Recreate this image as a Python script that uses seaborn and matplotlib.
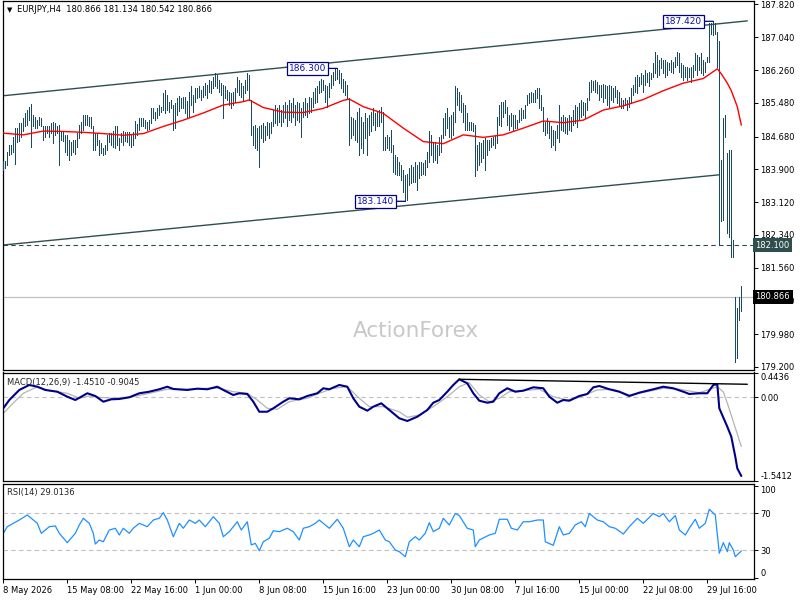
import numpy as np
import pandas as pd
import seaborn as sns
import matplotlib.pyplot as plt
from matplotlib.transforms import blended_transform_factory

sns.set_style("white")
plt.rcParams['font.family'] = ['DejaVu Sans']

# EURJPY H4 bars, one value per bar (high / low)
bar_high = [
    184.10, 184.10, 184.32, 184.48, 184.48, 184.68, 184.88, 184.88, 184.99, 184.99,
    185.11, 185.23, 185.31, 185.39, 185.45, 185.19, 185.15, 185.07, 185.15, 185.13,
    184.92, 184.92, 184.92, 184.92, 184.99, 185.03, 184.99, 184.92, 184.95, 184.80,
    184.80, 184.72, 184.72, 184.60, 184.56, 184.60, 184.60, 184.76, 184.95, 185.03,
    185.19, 185.19, 185.19, 185.15, 185.15, 184.92, 184.76, 184.76, 184.60, 184.52,
    184.40, 184.49, 184.72, 184.76, 184.76, 184.80, 184.94, 184.92, 184.64, 184.76,
    184.80, 184.78, 184.78, 184.78, 184.73, 184.78, 185.05, 184.97, 185.11, 185.11,
    185.13, 185.07, 185.03, 185.07, 185.35, 185.35, 185.27, 185.35, 185.43, 185.39,
    185.71, 185.79, 185.67, 185.51, 185.55, 185.43, 185.47, 185.59, 185.65, 185.59,
    185.63, 185.63, 185.53, 185.75, 185.87, 185.67, 185.83, 185.83, 185.87, 185.79,
    185.87, 185.95, 185.91, 186.03, 185.99, 186.10, 186.18, 186.14, 186.03, 185.95,
    185.91, 185.87, 185.79, 185.75, 185.71, 185.75, 185.83, 186.10, 186.03, 185.95,
    185.87, 186.03, 186.18, 186.14, 185.55, 184.92, 184.95, 184.88, 184.92, 184.95,
    184.99, 184.92, 185.03, 184.99, 185.03, 185.31, 185.43, 185.35, 185.43, 185.31,
    185.43, 185.51, 185.43, 185.55, 185.47, 185.59, 185.43, 185.51, 185.47, 185.35,
    185.51, 185.59, 185.47, 185.63, 185.59, 185.75, 185.83, 185.87, 185.99, 186.06,
    186.03, 185.91, 185.87, 185.95, 186.14, 186.22, 186.29, 186.30, 186.26, 186.18,
    186.06, 185.99, 185.91, 185.59, 185.15, 185.11, 185.07, 185.27, 185.35, 185.15,
    185.03, 185.23, 185.11, 185.19, 185.27, 185.35, 185.23, 185.27, 185.31, 185.39,
    185.27, 184.68, 184.72, 184.68, 184.84, 184.48, 184.24, 184.20, 184.08, 184.00,
    183.88, 183.77, 183.80, 183.92, 184.00, 183.96, 184.08, 184.00, 184.08, 184.08,
    184.04, 184.12, 184.32, 184.80, 184.72, 184.52, 184.56, 184.48, 184.68, 184.72,
    185.11, 185.23, 185.35, 185.15, 185.19, 185.27, 185.87, 185.83, 185.75, 185.67,
    185.47, 185.43, 185.23, 185.03, 185.03, 184.99, 184.95, 184.48, 184.56, 184.52,
    184.60, 184.64, 184.60, 184.60, 184.64, 184.68, 184.72, 185.15, 185.43, 185.51,
    185.51, 185.55, 185.39, 185.19, 185.23, 185.19, 185.19, 185.07, 185.31, 185.35,
    185.31, 185.43, 185.67, 185.71, 185.75, 185.71, 185.79, 185.83, 185.83, 185.67,
    185.39, 185.03, 185.11, 185.03, 184.92, 184.84, 184.80, 184.95, 185.43, 185.15,
    185.19, 185.15, 185.11, 185.19, 185.15, 185.31, 185.43, 185.39, 185.47, 185.55,
    185.51, 185.47, 185.59, 185.98, 186.02, 186.01, 186.02, 185.98, 185.91, 185.91,
    185.94, 185.91, 185.87, 185.91, 185.87, 185.83, 185.87, 185.79, 185.75, 185.59,
    185.55, 185.59, 185.55, 185.63, 185.83, 185.91, 186.10, 186.14, 186.10, 186.18,
    186.14, 186.26, 186.18, 186.22, 186.18, 186.42, 186.70, 186.62, 186.50, 186.54,
    186.50, 186.50, 186.46, 186.42, 186.50, 186.46, 186.58, 186.70, 186.66, 186.42,
    186.38, 186.34, 186.34, 186.30, 186.34, 186.38, 186.66, 186.62, 186.58, 186.66,
    186.50, 186.46, 186.58, 187.37, 187.37, 187.42, 187.39, 187.17, 186.94, 184.12,
    185.11, 185.19, 184.28, 184.36, 184.36, 182.22, 180.87, 180.60, 180.87, 181.134,
]
bar_low = [
    183.88, 183.92, 184.00, 184.24, 184.26, 184.32, 184.02, 184.56, 184.57, 184.68,
    184.80, 184.92, 184.95, 185.07, 184.42, 184.92, 184.88, 184.89, 184.95, 184.92,
    184.60, 184.68, 184.76, 184.68, 184.76, 184.52, 184.72, 184.76, 184.00, 184.60,
    184.57, 184.32, 184.24, 184.12, 184.24, 184.32, 184.26, 184.44, 184.64, 184.76,
    184.84, 184.95, 184.95, 184.92, 184.89, 184.36, 184.36, 184.48, 184.24, 184.28,
    184.24, 184.26, 184.36, 184.56, 184.48, 184.44, 184.40, 184.48, 184.36, 184.56,
    184.48, 184.57, 184.54, 184.48, 184.42, 184.48, 184.64, 184.72, 184.84, 184.92,
    184.92, 184.88, 184.84, 184.86, 184.99, 185.11, 185.07, 185.11, 185.19, 185.26,
    185.31, 185.23, 185.31, 185.27, 185.35, 184.84, 184.88, 185.19, 185.29, 185.35,
    185.37, 185.23, 185.15, 185.15, 185.43, 185.27, 185.51, 185.59, 185.63, 185.55,
    185.63, 185.67, 185.59, 185.75, 185.71, 185.83, 185.87, 185.83, 185.75, 185.67,
    185.11, 185.59, 185.55, 185.43, 185.35, 185.43, 185.51, 185.75, 185.67, 185.63,
    185.55, 185.71, 185.79, 185.55, 184.72, 184.48, 184.40, 184.36, 183.96, 184.64,
    184.56, 184.60, 184.72, 184.64, 184.76, 184.92, 184.99, 184.95, 185.03, 184.92,
    185.03, 185.11, 184.92, 185.07, 185.03, 185.15, 184.95, 185.07, 185.03, 184.68,
    185.15, 185.19, 185.15, 185.23, 185.27, 185.39, 185.47, 185.51, 185.71, 185.75,
    185.79, 185.51, 185.39, 185.63, 185.83, 185.91, 186.03, 186.06, 185.95, 185.83,
    185.75, 185.67, 185.59, 184.48, 184.64, 184.72, 184.60, 184.56, 184.24, 184.40,
    184.28, 184.64, 184.24, 184.72, 184.80, 184.95, 184.84, 184.92, 184.92, 185.03,
    184.36, 184.36, 184.40, 184.36, 184.32, 183.84, 183.80, 183.77, 183.77, 183.65,
    183.37, 183.14, 183.17, 183.53, 183.57, 183.61, 183.61, 183.41, 183.69, 183.77,
    183.80, 183.77, 183.96, 184.08, 184.24, 184.08, 184.12, 184.04, 184.24, 184.32,
    184.64, 184.72, 184.88, 184.68, 184.64, 184.72, 185.03, 185.43, 185.31, 185.27,
    185.03, 184.84, 184.84, 184.84, 184.84, 184.80, 183.73, 183.88, 184.00, 184.08,
    184.16, 183.88, 184.24, 184.36, 184.44, 184.48, 184.40, 184.52, 184.95, 184.92,
    185.15, 185.23, 184.95, 184.84, 184.92, 184.84, 184.88, 184.88, 185.03, 185.07,
    185.11, 185.11, 185.43, 185.47, 185.51, 185.51, 185.51, 185.59, 185.35, 185.31,
    184.80, 184.72, 184.76, 184.64, 184.44, 184.48, 184.36, 184.64, 184.56, 184.84,
    184.80, 184.76, 184.74, 184.84, 184.80, 184.95, 184.99, 184.91, 185.07, 185.15,
    185.19, 185.11, 185.31, 185.55, 185.75, 185.79, 185.75, 185.71, 185.55, 185.63,
    185.51, 185.59, 185.43, 185.39, 185.55, 185.51, 185.63, 185.47, 185.43, 185.35,
    185.35, 185.43, 185.31, 185.39, 185.47, 185.67, 185.75, 185.71, 185.87, 185.94,
    185.75, 185.91, 185.98, 185.87, 186.06, 186.10, 186.18, 186.10, 186.14, 186.30,
    186.18, 186.10, 186.14, 186.26, 186.22, 186.18, 186.34, 186.38, 186.22, 186.10,
    186.02, 186.10, 186.02, 186.10, 185.98, 186.10, 186.26, 186.14, 186.26, 186.18,
    186.14, 186.22, 186.46, 186.46, 187.13, 187.09, 187.13, 186.34, 182.10, 182.66,
    182.69, 184.68, 182.38, 182.30, 181.82, 181.82, 179.33, 179.41, 180.32, 180.542,
]

# moving average (red), sampled (bar index, price)
ma_pts = [(0, 184.76), (10, 184.72), (20, 184.81), (30, 184.80), (40, 184.78), (50, 184.75),
          (60, 184.71), (70, 184.75), (80, 184.92), (90, 185.07), (100, 185.24), (110, 185.43),
          (120, 185.51), (123, 185.55), (130, 185.37), (140, 185.26), (150, 185.25), (160, 185.35),
          (170, 185.54), (173, 185.57), (180, 185.39), (190, 185.23), (200, 184.88), (210, 184.56),
          (220, 184.51), (230, 184.72), (240, 184.66), (250, 184.72), (260, 184.88), (270, 185.05),
          (280, 185.01), (290, 185.07), (300, 185.31), (310, 185.41), (320, 185.56), (330, 185.77),
          (340, 185.95), (350, 186.06), (357, 186.29), (359, 186.17), (362, 185.95), (364, 185.77),
          (367, 185.39), (369, 184.95)]

# channel and marked levels
channel_x = [0, 372]
channel_upper = [185.65, 187.43]
channel_lower_x = [0, 358]
channel_lower = [182.10, 183.77]
level_dash = 182.100
level_last = 180.866
swing_labels = [(167, 186.30, '186.300'), (201, 183.14, '183.140'), (355, 187.42, '187.420')]

macd_pts = [(0, -0.203), (3, -0.050), (8, 0.135), (13, 0.227), (17, 0.195), (21, 0.135), (27, 0.103),
            (32, 0.011), (36, -0.050), (39, 0.011), (42, 0.074), (46, 0.024), (50, -0.081), (54, -0.037),
            (58, -0.031), (63, 0.0), (68, 0.074), (73, 0.103), (78, 0.148), (82, 0.195), (85, 0.153),
            (92, 0.135), (97, 0.159), (102, 0.148), (107, 0.195), (110, 0.135), (115, 0.042), (118, 0.074),
            (122, 0.061), (125, -0.081), (128, -0.266), (132, -0.266), (135, -0.203), (140, -0.081),
            (143, -0.018), (148, -0.037), (152, 0.024), (157, 0.074), (160, 0.166), (163, 0.148),
            (168, 0.227), (172, 0.195), (175, -0.018), (178, -0.173), (182, -0.247), (185, -0.173),
            (189, -0.111), (192, -0.203), (198, -0.387), (202, -0.437), (207, -0.358), (212, -0.234),
            (215, -0.100), (218, -0.050), (222, 0.103), (225, 0.227), (228, 0.332), (232, 0.258),
            (235, 0.074), (238, -0.063), (242, -0.100), (245, -0.081), (248, 0.074), (252, 0.166),
            (256, 0.103), (260, 0.122), (265, 0.184), (270, 0.166), (273, 0.011), (277, -0.100),
            (280, -0.050), (283, -0.063), (288, 0.024), (292, 0.061), (295, 0.184), (298, 0.208),
            (303, 0.148), (308, 0.103), (313, 0.024), (318, 0.085), (325, 0.148), (330, 0.195),
            (335, 0.166), (340, 0.103), (343, 0.061), (348, 0.074), (352, 0.074), (355, 0.227),
            (357, 0.240), (358, -0.203), (362, -0.542), (364, -0.727), (366, -1.096), (367, -1.310),
            (369, -1.451)]
signal_pts = [(0, -0.295), (5, -0.105), (10, 0.074), (17, 0.195), (23, 0.122), (32, 0.074), (38, -0.018),
              (43, 0.024), (48, 0.0), (55, -0.018), (65, 0.011), (73, 0.074), (82, 0.148), (92, 0.148),
              (102, 0.166), (108, 0.166), (115, 0.103), (122, 0.074), (127, -0.050), (132, -0.203),
              (137, -0.221), (143, -0.081), (152, -0.018), (158, 0.074), (165, 0.166), (172, 0.195),
              (178, -0.018), (183, -0.173), (190, -0.173), (198, -0.266), (202, -0.369), (208, -0.326),
              (215, -0.173), (222, 0.011), (228, 0.195), (233, 0.269), (238, 0.042), (243, -0.081),
              (248, -0.018), (253, 0.103), (260, 0.122), (268, 0.148), (275, 0.011), (282, -0.050),
              (288, 0.0), (297, 0.135), (305, 0.148), (313, 0.042), (322, 0.103), (330, 0.166),
              (338, 0.148), (348, 0.085), (357, 0.195), (360, 0.10), (362, -0.105), (365, -0.45),
              (369, -0.9045)]
macd_trend_x = [228, 372]
macd_trend_y = [0.332, 0.240]

rsi_pts = [(0, 48.2), (2, 55.4), (5, 59.1), (8, 62.7), (12, 68.2), (15, 62.7), (17, 59.1), (19, 48.2),
           (23, 55.4), (26, 56.2), (28, 48.2), (32, 38.0), (36, 48.2), (38, 57.3), (40, 64.6), (43, 59.1),
           (45, 48.2), (46, 36.5), (48, 40.9), (50, 39.0), (53, 51.8), (56, 53.7), (58, 46.4), (60, 53.7),
           (63, 48.2), (65, 53.7), (68, 59.1), (72, 55.4), (75, 62.7), (78, 64.6), (80, 70.7), (82, 62.7),
           (85, 44.5), (88, 59.1), (90, 53.7), (93, 62.7), (96, 59.1), (98, 62.7), (101, 55.4), (105, 66.3),
           (108, 59.1), (110, 44.5), (113, 50.0), (117, 60.8), (119, 51.8), (122, 60.8), (124, 35.5),
           (126, 37.3), (128, 29.2), (130, 39.0), (133, 42.8), (135, 51.0), (138, 50.0), (142, 53.7),
           (145, 50.0), (148, 40.9), (150, 53.7), (153, 55.4), (156, 59.1), (158, 62.7), (161, 57.3),
           (163, 53.7), (167, 63.5), (170, 53.7), (173, 33.6), (175, 40.9), (178, 33.6), (180, 44.5),
           (183, 46.4), (185, 48.2), (188, 51.8), (191, 40.9), (193, 39.0), (196, 30.0), (198, 28.2),
           (201, 22.7), (203, 39.0), (206, 44.5), (208, 40.9), (211, 48.2), (213, 59.8), (215, 50.0),
           (218, 53.7), (220, 64.6), (223, 57.3), (226, 69.8), (228, 67.6), (232, 53.7), (235, 51.8),
           (236, 33.6), (238, 40.9), (243, 46.4), (246, 48.2), (248, 63.5), (252, 63.5), (254, 53.7),
           (257, 51.8), (260, 60.8), (263, 60.8), (267, 62.7), (270, 62.7), (271, 39.0), (275, 35.1),
           (278, 55.4), (280, 46.4), (283, 48.2), (286, 57.3), (289, 60.8), (291, 55.4), (293, 69.8),
           (297, 62.7), (300, 60.8), (303, 55.4), (306, 53.7), (310, 47.4), (313, 55.4), (317, 64.6),
           (320, 59.1), (325, 69.8), (328, 66.3), (330, 69.8), (333, 60.8), (336, 67.6), (338, 51.8),
           (341, 46.4), (343, 53.7), (346, 63.5), (348, 53.7), (351, 59.1), (353, 74.4), (356, 68.2),
           (358, 26.4), (360, 38.0), (362, 28.2), (363, 38.0), (365, 30.0), (366, 22.7), (369, 29.0)]

price_ticks = [187.82, 187.04, 186.26, 185.48, 184.68, 183.90, 183.12, 182.34, 181.56, 180.78, 179.98, 179.20]
macd_ticks = [0.4436, 0.0, -1.5412]
macd_tick_labels = ['0.4436', '0.00', '-1.5412']
rsi_ticks = [100, 70, 30, 0]
time_labels = ['8 May 2026', '15 May 08:00', '22 May 16:00', '1 Jun 00:00', '8 Jun 08:00',
               '15 Jun 16:00', '23 Jun 00:00', '30 Jun 08:00', '7 Jul 16:00', '15 Jul 00:00',
               '22 Jul 08:00', '29 Jul 16:00']
time_step = 32

BAR = '#1a4a5f'
SLATE = '#2f4f4f'
FS = 6

fig = plt.figure(figsize=(8, 6), dpi=100)
W, H = 800.0, 600.0
ax = fig.add_axes([2.5 / W, 1 - 370 / H, 751 / W, 369 / H])
ax2 = fig.add_axes([2.5 / W, 1 - 481 / H, 751 / W, 108.5 / H])
ax3 = fig.add_axes([2.5 / W, 1 - 579 / H, 751 / W, 95.5 / H])

for a in (ax, ax2, ax3):
    a.set_xlim(-0.4, 375.1)
    a.set_facecolor('white')
    for s in a.spines.values():
        s.set_color('black')
        s.set_linewidth(0.9)
    a.yaxis.tick_right()
    a.tick_params(axis='y', direction='out', length=3, width=0.7, pad=2, labelsize=FS, colors='black')

# ---- main price panel
idx = np.arange(len(bar_high))
ax.vlines(idx, bar_low, bar_high, color=BAR, lw=0.6, antialiased=False, zorder=3)

ma = pd.DataFrame(ma_pts, columns=['bar', 'ma'])
sns.lineplot(data=ma, x='bar', y='ma', ax=ax, color='red', lw=1.0, sort=False, estimator=None, zorder=4)

ax.plot(channel_x, channel_upper, color=SLATE, lw=1.0, zorder=2)
ax.plot(channel_lower_x, channel_lower, color=SLATE, lw=1.0, zorder=2)
ax.axhline(level_dash, color=SLATE, lw=0.8, dashes=(4, 3), zorder=1)
ax.axhline(level_last, color='#c0c0c0', lw=0.9, zorder=1)

for bi, p, txt in swing_labels:
    ax.annotate(txt, xy=(bi, p), xytext=(-11, 0), textcoords='offset pixels',
                ha='right', va='center', fontsize=6.5, color='#1010b0', zorder=6,
                bbox=dict(boxstyle='square,pad=0.2', fc='white', ec='#000080', lw=0.9),
                arrowprops=dict(arrowstyle='-', color='#000080', lw=0.9, shrinkA=0, shrinkB=0))

ax.set_ylim(179.128, 187.903)
ax.set_yticks(price_ticks)
ax.set_yticklabels(['%.3f' % v for v in price_ticks])
ax.set_xticks([])
ax.set_xlabel('')
ax.set_ylabel('')

tr = blended_transform_factory(ax.transAxes, ax.transData)
ax.text(1.0025, level_dash, '%.3f' % level_dash, transform=tr, ha='left', va='center',
        fontsize=FS, color='white', zorder=7, clip_on=False,
        bbox=dict(boxstyle='square,pad=0.3', fc=SLATE, ec='none'))
ax.text(1.0025, level_last, '%.3f' % level_last, transform=tr, ha='left', va='center',
        fontsize=FS, color='white', zorder=7, clip_on=False,
        bbox=dict(boxstyle='square,pad=0.3', fc='black', ec='none'))

# ---- MACD panel
macd = pd.DataFrame(macd_pts, columns=['bar', 'v'])
sig = pd.DataFrame(signal_pts, columns=['bar', 'v'])
ax2.axhline(0, color='#c0c0c0', lw=0.8, dashes=(4, 3), zorder=1)
sns.lineplot(data=sig, x='bar', y='v', ax=ax2, color='#b4b4b4', lw=0.9, sort=False, estimator=None)
sns.lineplot(data=macd, x='bar', y='v', ax=ax2, color='#00008b', lw=1.5, sort=False, estimator=None)
ax2.plot(macd_trend_x, macd_trend_y, color='black', lw=1.0)
ax2.set_ylim(-1.543, 0.457)
ax2.set_yticks(macd_ticks)
ax2.set_yticklabels(macd_tick_labels)
labs = ax2.get_yticklabels()
labs[0].set_va('top')
labs[2].set_va('bottom')
ax2.set_xticks([])
ax2.set_xlabel('')
ax2.set_ylabel('')

# ---- RSI panel
rsi = pd.DataFrame(rsi_pts, columns=['bar', 'v'])
ax3.axhline(70, color='#c0c0c0', lw=0.8, dashes=(4, 3), zorder=1)
ax3.axhline(30, color='#c0c0c0', lw=0.8, dashes=(4, 3), zorder=1)
sns.lineplot(data=rsi, x='bar', y='v', ax=ax3, color='#1e90ff', lw=0.9, sort=False, estimator=None)
ax3.set_ylim(-1.6, 102.5)
ax3.set_yticks(rsi_ticks)
ax3.set_yticklabels([str(v) for v in rsi_ticks])
labs = ax3.get_yticklabels()
labs[0].set_va('top')
labs[3].set_va('bottom')
ax3.set_xticks([k * time_step for k in range(len(time_labels))])
ax3.set_xticklabels(time_labels, ha='left')
ax3.tick_params(axis='x', direction='out', length=3, width=0.7, pad=2, labelsize=FS, colors='black',
                bottom=True)
ax3.set_xlabel('')
ax3.set_ylabel('')

# ---- header texts and watermark
fig.text(7 / W, 1 - 10 / H, '\u25bc', fontsize=5, va='center', ha='left', color='black')
fig.text(17 / W, 1 - 10 / H, 'EURJPY,H4  180.866 181.134 180.542 180.866', fontsize=FS,
         va='center', ha='left', color='black')
fig.text(7 / W, 1 - 382 / H, 'MACD(12,26,9) -1.4510 -0.9045', fontsize=FS, va='center', ha='left')
fig.text(7 / W, 1 - 493 / H, 'RSI(14) 29.0136', fontsize=FS, va='center', ha='left')
fig.text(416 / W, 1 - 331 / H, 'ActionForex', fontsize=15.5, color='#c8c8c8', ha='center', va='center')

fig.savefig('out.png', dpi=100, facecolor='white')
